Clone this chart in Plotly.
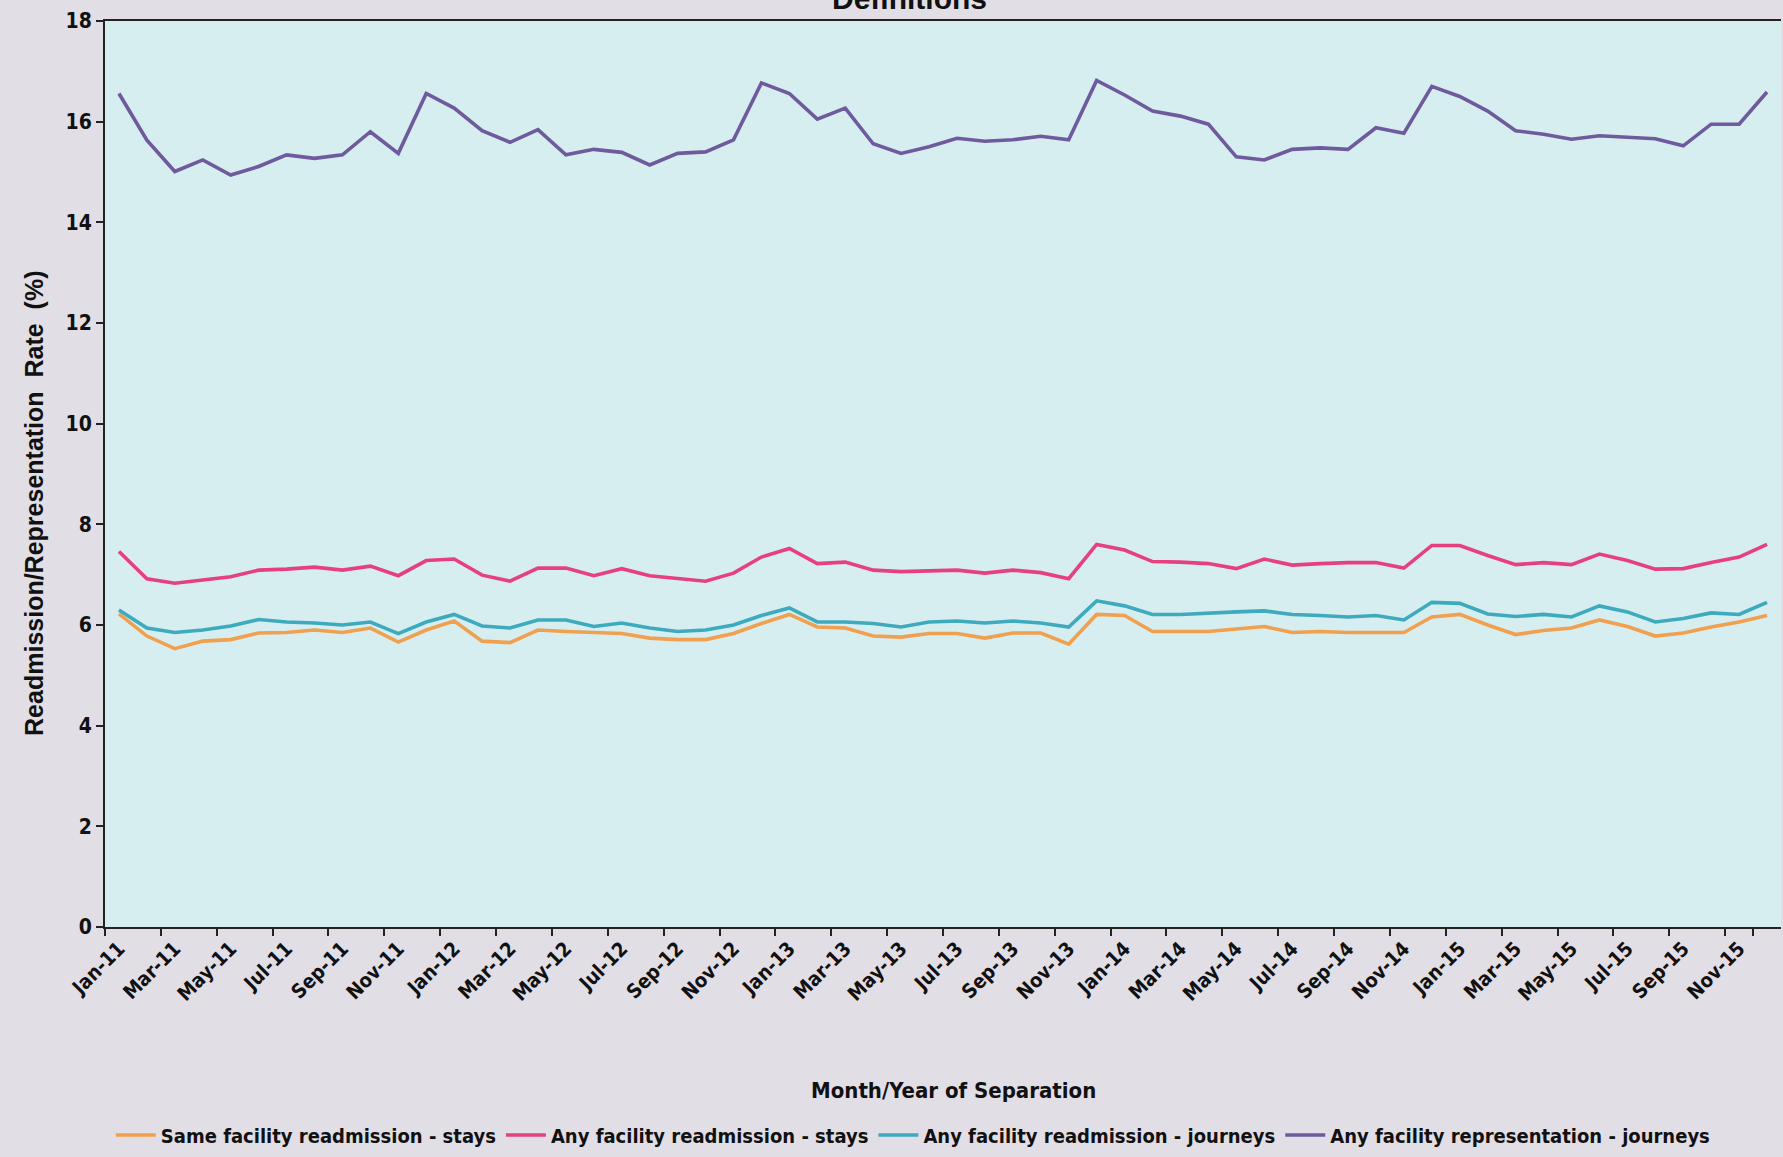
import plotly.graph_objects as go

# Month/year of separation, Jan-11 .. Dec-15
month_names = ["Jan", "Feb", "Mar", "Apr", "May", "Jun",
               "Jul", "Aug", "Sep", "Oct", "Nov", "Dec"]
years = ["11", "12", "13", "14", "15"]
months = [f"{m}-{y}" for y in years for m in month_names]

# Readmission / representation rates (%)
same_facility_stays = [
    6.22, 5.78, 5.53, 5.68, 5.71, 5.84, 5.85, 5.90, 5.85, 5.94, 5.66, 5.90,
    6.08, 5.68, 5.65, 5.90, 5.87, 5.85, 5.83, 5.74, 5.71, 5.71, 5.83, 6.03,
    6.21, 5.96, 5.94, 5.78, 5.76, 5.83, 5.83, 5.74, 5.84, 5.84, 5.62, 6.21,
    6.19, 5.87, 5.87, 5.87, 5.92, 5.97, 5.85, 5.87, 5.85, 5.85, 5.85, 6.16,
    6.21, 6.00, 5.81, 5.89, 5.94, 6.10, 5.97, 5.78, 5.84, 5.96, 6.06, 6.19,
]
any_facility_stays = [
    7.46, 6.92, 6.83, 6.90, 6.96, 7.09, 7.11, 7.15, 7.09, 7.17, 6.98, 7.28,
    7.31, 6.99, 6.87, 7.13, 7.13, 6.98, 7.12, 6.98, 6.92, 6.87, 7.03, 7.35,
    7.52, 7.22, 7.25, 7.09, 7.06, 7.08, 7.09, 7.03, 7.09, 7.04, 6.92, 7.60,
    7.49, 7.26, 7.25, 7.22, 7.12, 7.31, 7.19, 7.22, 7.24, 7.24, 7.13, 7.58,
    7.58, 7.38, 7.20, 7.24, 7.20, 7.41, 7.28, 7.11, 7.12, 7.24, 7.35, 7.60,
]
any_facility_journeys = [
    6.30, 5.94, 5.85, 5.90, 5.98, 6.11, 6.06, 6.04, 6.00, 6.06, 5.83, 6.06,
    6.21, 5.98, 5.94, 6.10, 6.10, 5.97, 6.04, 5.94, 5.87, 5.90, 6.00, 6.19,
    6.34, 6.06, 6.06, 6.03, 5.96, 6.06, 6.08, 6.04, 6.08, 6.04, 5.96, 6.48,
    6.38, 6.21, 6.21, 6.24, 6.26, 6.28, 6.21, 6.19, 6.16, 6.19, 6.10, 6.45,
    6.43, 6.22, 6.17, 6.21, 6.16, 6.38, 6.26, 6.06, 6.13, 6.24, 6.21, 6.45,
]
representation_journeys = [
    16.56, 15.63, 15.01, 15.24, 14.94, 15.11, 15.34, 15.27, 15.34, 15.80, 15.37, 16.56,
    16.27, 15.82, 15.59, 15.84, 15.34, 15.45, 15.39, 15.14, 15.37, 15.40, 15.64, 16.77,
    16.56, 16.05, 16.27, 15.56, 15.37, 15.50, 15.67, 15.61, 15.64, 15.71, 15.64, 16.82,
    16.53, 16.21, 16.11, 15.95, 15.30, 15.24, 15.45, 15.48, 15.45, 15.88, 15.77, 16.70,
    16.50, 16.21, 15.82, 15.75, 15.65, 15.72, 15.69, 15.66, 15.52, 15.95, 15.95, 16.59,
]

series = [
    ("Same facility readmission - stays", same_facility_stays, "#f0a04e"),
    ("Any facility readmission - stays", any_facility_stays, "#e6407f"),
    ("Any facility readmission - journeys", any_facility_journeys, "#3eaabd"),
    ("Any facility representation - journeys", representation_journeys, "#6e5a9c"),
]

y_ticks = list(range(0, 19, 2))

NARROW = "Liberation Sans Narrow, Arial Narrow, DejaVu Sans Condensed, sans-serif"
WIDE = "Liberation Sans, Arial, sans-serif"

fig = go.Figure()
for name, values, color in series:
    fig.add_trace(go.Scatter(
        x=months, y=values, name=name, mode="lines",
        line=dict(color=color, width=3.6),
    ))

fig.update_layout(
    width=1783, height=1157, autosize=False,
    margin=dict(l=105, r=2, t=21, b=217),
    paper_bgcolor="#e2dee6",
    plot_bgcolor="#d7eef1",
    font=dict(family=NARROW, color="#111111"),
    showlegend=True,
    legend=dict(
        orientation="h", x=0.482, xanchor="center", y=-0.208, yanchor="top",
        font=dict(family=NARROW, size=20, color="#111111", weight="bold"),
        bgcolor="rgba(0,0,0,0)", itemwidth=40, tracegroupgap=0,
    ),
    annotations=[
        # chart title, partly above the top edge
        dict(text="<b>Definitions</b>", xref="paper", yref="paper",
             x=0.48, y=1.004, xanchor="center", yanchor="bottom",
             showarrow=False, font=dict(family=WIDE, size=30, color="#111111")),
        # axis titles
        dict(text="<b>Month/Year of Separation</b>", xref="paper", yref="paper",
             x=0.506, y=-0.18, xanchor="center", yanchor="middle",
             showarrow=False, font=dict(family=NARROW, size=22, color="#111111")),
        dict(text="<b>Readmission/Representation  Rate  (%)</b>", xref="paper", yref="paper",
             x=-0.0424, y=0.468, xanchor="center", yanchor="middle", textangle=-90,
             showarrow=False, font=dict(family=WIDE, size=25, color="#111111")),
    ],
)

fig.update_xaxes(
    type="category", categoryorder="array", categoryarray=months,
    range=[-0.5, len(months) - 0.5],
    tickmode="array", tickvals=months[::2], ticktext=months[::2],
    tickson="boundaries", ticks="outside", ticklen=7, tickwidth=1.5, tickcolor="#222222",
    tickangle=-45, tickfont=dict(family=NARROW, size=20, color="#111111", weight="bold"),
    showline=True, linecolor="#222222", linewidth=2, mirror=True,
    showgrid=False, zeroline=False,
)

fig.update_yaxes(
    range=[0, 18], tickmode="array", tickvals=y_ticks,
    ticks="outside", ticklen=7, tickwidth=1.5, tickcolor="#222222",
    tickfont=dict(family=NARROW, size=21, color="#111111", weight="bold"),
    showline=True, linecolor="#222222", linewidth=2,
    showgrid=False, zeroline=False,
)

fig.write_html("out.html")
